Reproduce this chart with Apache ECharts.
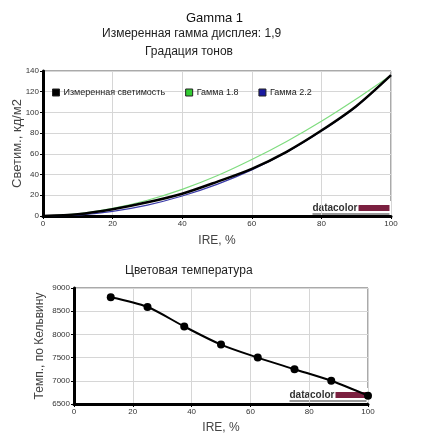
<!DOCTYPE html>
<html>
<head>
<meta charset="utf-8">
<script src="https://cdn.jsdelivr.net/npm/echarts@6/dist/echarts.min.js"></script>
<style>
  html, body { margin: 0; padding: 0; background: #fff; }
  #chart { width: 424px; height: 448px; }
</style>
</head>
<body>
<div id="chart"></div>
<script>
// tone curve (IRE %, cd/m2)
const ireSteps = [0, 10, 20, 30, 40, 50, 60, 70, 80, 90, 100]
const measuredLum = [0, 1.7, 6.5, 13.2, 21.5, 33, 45.5, 62, 82.5, 106, 136]
const gamma18 = [0, 2.1, 7.3, 15.2, 25.7, 38.8, 54.5, 72, 91.5, 113, 136]
const gamma22 = [0, 0.9, 4.5, 10.5, 19.3, 30.5, 44.5, 61.5, 82, 105.5, 136]

// colour temperature (IRE %, K)
const tempIre = [12.5, 25, 37.5, 50, 62.5, 75, 87.5, 100]
const tempKelvin = [8800, 8590, 8170, 7780, 7500, 7250, 7000, 6680]

const FONT = '"Liberation Sans", Arial, sans-serif'

const pairs = (xs, ys) => xs.map((x, i) => [x, ys[i]])

const axisLabel = { color: '#333', fontSize: 8, fontFamily: FONT, margin: 4, formatter: v => String(v) }
const gridLine = { show: true, lineStyle: { color: '#d6d6d6', width: 1 } }
const thickAxis = { show: true, lineStyle: { color: '#000', width: 3 } }
const tick = { show: true, length: 3, lineStyle: { color: '#000' } }
const nameStyle = { color: '#444', fontSize: 12, fontFamily: FONT }

const logo = (x, y) => ({
  type: 'group',
  left: x,
  top: y,
  z: 100,
  children: [
    { type: 'rect', shape: { x: -2, y: -2, width: 82, height: 14 }, style: { fill: '#fff' } },
    { type: 'text', x: 0, y: 0, style: { text: 'datacolor', font: 'bold 10px ' + FONT, fill: '#333' } },
    { type: 'rect', shape: { x: 46, y: 2, width: 31, height: 6 }, style: { fill: '#7b2040' } },
    { type: 'line', shape: { x1: 0, y1: 11, x2: 77, y2: 11 }, style: { stroke: '#333', lineWidth: 1 } }
  ]
})

const chart = echarts.init(document.getElementById('chart'))
chart.setOption({
  backgroundColor: '#fff',
  animation: false,
  title: [
    { text: 'Gamma 1', left: 181, top: 7, textStyle: { fontSize: 13, fontWeight: 'normal', color: '#111', fontFamily: FONT } },
    { text: 'Измеренная гамма дисплея: 1,9', left: 97, top: 23, textStyle: { fontSize: 12, fontWeight: 'normal', color: '#222', fontFamily: FONT } },
    { text: 'Градация тонов', left: 140, top: 41, textStyle: { fontSize: 12, fontWeight: 'normal', color: '#222', fontFamily: FONT } },
    { text: 'Цветовая температура', left: 120, top: 260, textStyle: { fontSize: 12, fontWeight: 'normal', color: '#222', fontFamily: FONT } }
  ],
  legend: {
    left: 52,
    top: 88,
    icon: 'rect',
    itemWidth: 7,
    itemHeight: 7,
    itemGap: 20,
    padding: 0,
    textStyle: { fontSize: 9, color: '#222', fontFamily: FONT, padding: [0, 0, 0, -1] },
    itemStyle: { borderColor: '#222', borderWidth: 1 },
    data: [
      { name: 'Измеренная светимость', itemStyle: { color: '#000' } },
      { name: 'Гамма 1.8', itemStyle: { color: '#33cc33' } },
      { name: 'Гамма 2.2', itemStyle: { color: '#1a1aa0' } }
    ]
  },
  grid: [
    { left: 43, right: 33, top: 71, height: 145, show: true, borderColor: '#555', borderWidth: 1, outerBoundsMode: 'none' },
    { left: 74, right: 56, top: 288, height: 116, show: true, borderColor: '#555', borderWidth: 1, outerBoundsMode: 'none' }
  ],
  xAxis: [
    {
      gridIndex: 0, type: 'value', min: 0, max: 100, interval: 20,
      name: 'IRE, %', nameLocation: 'middle', nameGap: 19, nameMoveOverlap: false, nameTextStyle: nameStyle,
      axisLine: thickAxis, axisTick: tick, axisLabel: axisLabel, splitLine: gridLine
    },
    {
      gridIndex: 1, type: 'value', min: 0, max: 100, interval: 20,
      name: 'IRE, %', nameLocation: 'middle', nameGap: 18, nameMoveOverlap: false, nameTextStyle: nameStyle,
      axisLine: thickAxis, axisTick: tick, axisLabel: axisLabel, splitLine: gridLine
    }
  ],
  yAxis: [
    {
      gridIndex: 0, type: 'value', min: 0, max: 140, interval: 20,
      name: 'Светим., кд/м2', nameLocation: 'middle', nameGap: 19, nameMoveOverlap: false,
      nameTextStyle: Object.assign({}, nameStyle, { fontSize: 13 }),
      axisLine: thickAxis, axisTick: tick, axisLabel: axisLabel, splitLine: gridLine
    },
    {
      gridIndex: 1, type: 'value', min: 6500, max: 9000, interval: 500,
      name: 'Темп., по Кельвину', nameLocation: 'middle', nameGap: 28, nameMoveOverlap: false, nameTextStyle: nameStyle,
      axisLine: thickAxis, axisTick: tick, axisLabel: axisLabel, splitLine: gridLine
    }
  ],
  series: [
    {
      name: 'Гамма 1.8', type: 'line', xAxisIndex: 0, yAxisIndex: 0, smooth: 0.3,
      showSymbol: false, z: 2, color: '#7fdc7f', lineStyle: { width: 1.2, color: '#7fdc7f' },
      data: pairs(ireSteps, gamma18)
    },
    {
      name: 'Гамма 2.2', type: 'line', xAxisIndex: 0, yAxisIndex: 0, smooth: 0.3,
      showSymbol: false, z: 2, color: '#3a3aa8', lineStyle: { width: 1.2, color: '#3a3aa8' },
      data: pairs(ireSteps, gamma22)
    },
    {
      name: 'Измеренная светимость', type: 'line', xAxisIndex: 0, yAxisIndex: 0, smooth: 0.3,
      showSymbol: false, z: 3, color: '#000', lineStyle: { width: 2.5, color: '#000' },
      data: pairs(ireSteps, measuredLum)
    },
    {
      name: 'temp', type: 'line', xAxisIndex: 1, yAxisIndex: 1, smooth: 0.3, clip: false,
      symbol: 'circle', symbolSize: 8, color: '#000',
      lineStyle: { width: 2, color: '#000' }, itemStyle: { color: '#000' },
      data: pairs(tempIre, tempKelvin)
    }
  ],
  graphic: [logo(310, 201), logo(287, 388)]
})
</script>
</body>
</html>
